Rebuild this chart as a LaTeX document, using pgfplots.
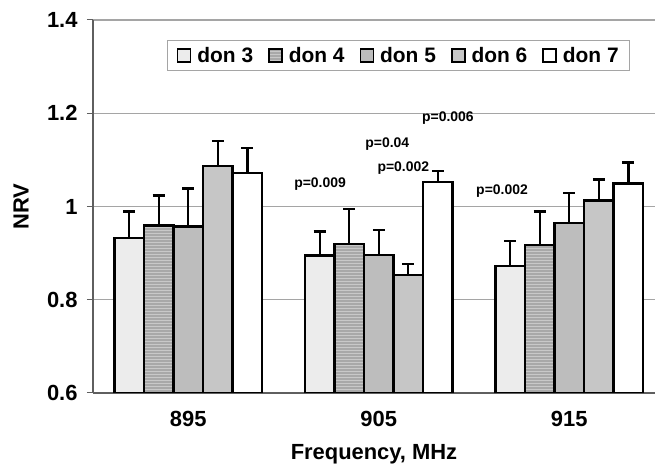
\documentclass[border=0pt]{standalone}
\usepackage{fontspec}
\setmainfont{Liberation Sans}
\usepackage{pgfplots}
\pgfplotsset{compat=1.18}
\usetikzlibrary{patterns}

\definecolor{gridgray}{RGB}{165,165,165}
\definecolor{axgray}{RGB}{95,95,95}
\definecolor{don3}{RGB}{236,236,236}
\definecolor{don4}{RGB}{168,168,168}
\definecolor{don4b}{RGB}{200,200,200}
\definecolor{don5}{RGB}{189,189,189}
\definecolor{don6}{RGB}{198,198,198}

\begin{document}
\begin{tikzpicture}
\begin{axis}[
  scale only axis,
  width=562bp, height=373bp,
  ymin=0.6, ymax=1.4,
  ytick={0.6,0.8,1.0,1.2,1.4},
  yticklabels={0.6,0.8,1,1.2,1.4},
  xmin=-0.5, xmax=2.45,
  xtick={0,1,2},
  xticklabels={895,905,915},
  extra x ticks={-0.5,0.5,1.5},
  extra x tick labels={},
  extra x tick style={major tick length=6bp, tick align=outside, grid=none,
    tick style={draw=axgray, line width=1pt}},
  major x tick style={draw=none},
  ymajorgrids,
  grid style={draw=gridgray, line width=1.2pt},
  axis x line*=bottom,
  axis y line*=left,
  axis line style={draw=axgray, line width=1.4pt, -},
  y tick style={draw=axgray, line width=1pt},
  tick align=outside,
  major tick length=6bp,
  tick label style={font=\fontsize{22}{24}\selectfont\bfseries},
  xticklabel style={anchor=base, yshift=-28bp},
  yticklabel style={xshift=-6bp},
  /pgf/number format/assume math mode=true,
  xlabel={Frequency, MHz},
  ylabel={NRV},
  label style={font=\fontsize{22}{24}\selectfont\bfseries},
  xlabel style={at={(rel axis cs:0.5,0)}, anchor=base, yshift=-67bp},
  ylabel style={at={(rel axis cs:0,0.5)}, anchor=center, yshift=72bp},
  bar width=0.155,
  ybar,
  every axis plot/.append style={draw=black, line width=2.4bp},
  error bars/y dir=plus,
  error bars/y explicit,
  error bars/error bar style={line width=2.4bp, black},
  error bars/error mark options={rotate=90, mark size=6bp, line width=2.4bp, black},
  legend columns=5,
  legend style={at={(axis cs:1.105,1.324)}, anchor=center, draw=gridgray,
    line width=1pt, font=\fontsize{21}{23}\selectfont\bfseries,
    inner xsep=9bp, inner ysep=5bp,
    /tikz/every odd column/.append style={column sep=4bp},
    /tikz/every even column/.append style={column sep=13bp}},
  legend image code/.code={\draw[#1, line width=1.6bp] (0bp,-6.5bp) rectangle (13bp,6.5bp);},
]
\addplot[fill=don3, bar shift=-0.31] coordinates {
  (0,0.932) +- (0,0.057)
  (1,0.895) +- (0,0.051)
  (2,0.872) +- (0,0.054)
};
\addlegendentry{don 3}
\addplot[fill=don4, postaction={pattern=horizontal lines, pattern color=don4b}, bar shift=-0.155] coordinates {
  (0,0.959) +- (0,0.065)
  (1,0.919) +- (0,0.076)
  (2,0.918) +- (0,0.071)
};
\addlegendentry{don 4}
\addplot[fill=don5, bar shift=0] coordinates {
  (0,0.957) +- (0,0.082)
  (1,0.896) +- (0,0.054)
  (2,0.964) +- (0,0.065)
};
\addlegendentry{don 5}
\addplot[fill=don6, bar shift=0.155] coordinates {
  (0,1.087) +- (0,0.053)
  (1,0.853) +- (0,0.024)
  (2,1.013) +- (0,0.045)
};
\addlegendentry{don 6}
\addplot[fill=white, bar shift=0.31] coordinates {
  (0,1.072) +- (0,0.054)
  (1,1.052) +- (0,0.024)
  (2,1.049) +- (0,0.045)
};
\addlegendentry{don 7}

\node[font=\fontsize{14}{16}\selectfont\bfseries] at (axis cs:0.692,1.049) {p=0.009};
\node[font=\fontsize{14}{16}\selectfont\bfseries] at (axis cs:1.045,1.133) {p=0.04};
\node[font=\fontsize{14}{16}\selectfont\bfseries] at (axis cs:1.129,1.082) {p=0.002};
\node[font=\fontsize{14}{16}\selectfont\bfseries] at (axis cs:1.363,1.189) {p=0.006};
\node[font=\fontsize{14}{16}\selectfont\bfseries] at (axis cs:1.647,1.034) {p=0.002};

\coordinate (ll) at (rel axis cs:0,0);
\coordinate (ur) at (rel axis cs:1,1);
\end{axis}
\pgfresetboundingbox
\path ([shift={(-93bp,-74bp)}]ll) rectangle ([shift={(0bp,20bp)}]ur);
\end{tikzpicture}
\end{document}
